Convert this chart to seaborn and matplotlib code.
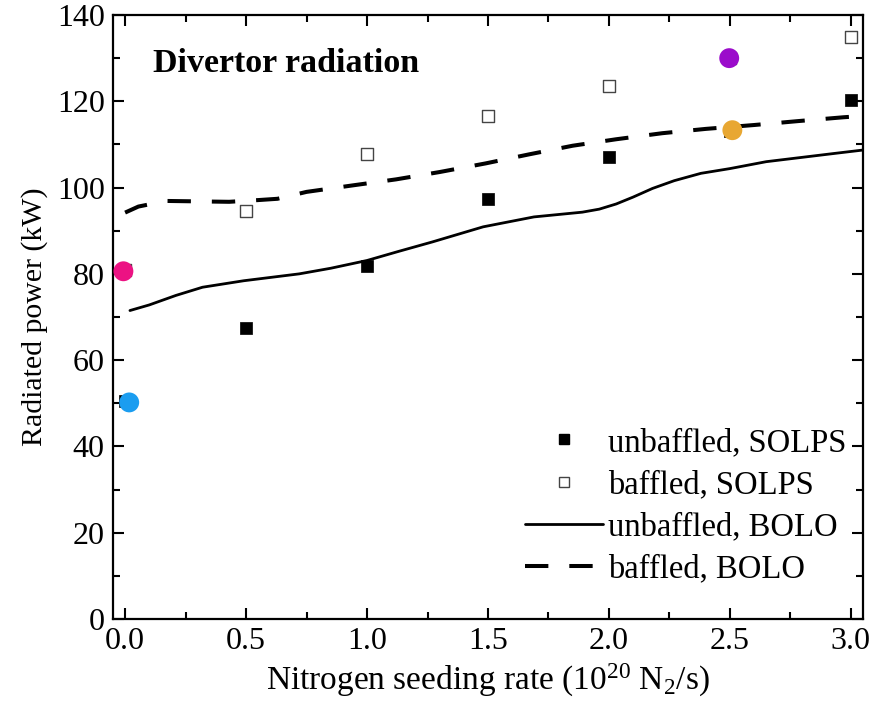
import numpy as np
import pandas as pd
import matplotlib
matplotlib.use("Agg")
import matplotlib.pyplot as plt
import seaborn as sns
from matplotlib.ticker import MultipleLocator
from matplotlib.lines import Line2D

# ---- data ----
solps_x = [0.0, 0.5, 1.0, 1.5, 2.0, 2.5, 3.0]
unbaffled_solps = [50.5, 67.4, 81.9, 97.3, 107.0, 113.2, 120.2]
baffled_solps = [80.8, 94.6, 107.8, 116.6, 123.6, 130.0, 134.8]

bolo_unb_x = [0.02, 0.1, 0.21, 0.32, 0.49, 0.72, 0.85, 1.0, 1.13, 1.27, 1.48, 1.69, 1.89, 1.96, 2.03, 2.1, 2.18, 2.27, 2.38, 2.5, 2.65, 2.93, 3.05]
bolo_unb_y = [71.5, 72.8, 75.0, 76.9, 78.4, 80.0, 81.3, 83.1, 85.2, 87.4, 90.9, 93.2, 94.3, 95.0, 96.2, 97.8, 99.8, 101.6, 103.3, 104.4, 106.0, 107.9, 108.7]

bolo_baf_x = [0.0, 0.055, 0.17, 0.3, 0.43, 0.55, 0.63, 0.75, 0.94, 1.12, 1.3, 1.49, 1.67, 1.85, 2.03, 2.22, 2.4, 2.6, 2.78, 2.97, 3.05]
bolo_baf_y = [94.2, 95.6, 96.9, 96.8, 96.7, 97.1, 97.4, 99.0, 100.5, 101.9, 103.6, 105.6, 107.7, 109.7, 111.2, 112.6, 113.6, 114.5, 115.4, 116.3, 116.6]

exp_x = [-0.007, 0.017, 2.497, 2.51]
exp_y = [80.6, 50.2, 130.0, 113.3]
exp_colors = ["#EC1283", "#1B9DF0", "#9B0CCB", "#E8A732"]

legend_labels = ["unbaffled, SOLPS", "baffled, SOLPS", "unbaffled, BOLO", "baffled, BOLO"]

# ---- style ----
sns.set_style("ticks")
plt.rcParams["font.family"] = ["Liberation Serif", "DejaVu Serif"]
plt.rcParams["mathtext.fontset"] = "custom"
plt.rcParams["mathtext.rm"] = "Liberation Serif"
plt.rcParams["mathtext.it"] = "Liberation Serif:italic"
plt.rcParams["mathtext.bf"] = "Liberation Serif:bold"
plt.rcParams["text.color"] = "black"
plt.rcParams["axes.labelcolor"] = "black"
plt.rcParams["xtick.color"] = "black"
plt.rcParams["ytick.color"] = "black"

fig, ax = plt.subplots(figsize=(8.75, 7.17), dpi=100)
fig.subplots_adjust(left=113/875, right=863/875, top=1-15/717, bottom=1-619/717)

df_unb = pd.DataFrame({"x": bolo_unb_x, "y": bolo_unb_y})
df_baf = pd.DataFrame({"x": bolo_baf_x, "y": bolo_baf_y})
sns.lineplot(data=df_unb, x="x", y="y", ax=ax, color="black", linewidth=2.0, zorder=2)
sns.lineplot(data=df_baf, x="x", y="y", ax=ax, color="black", linewidth=2.9, zorder=2)
ax.lines[-1].set_dashes((5.8, 5.2))

df_s = pd.DataFrame({"x": solps_x, "unb": unbaffled_solps, "baf": baffled_solps})
sns.scatterplot(data=df_s, x="x", y="unb", ax=ax, marker="s", s=85, color="black",
                edgecolor="black", linewidth=0.5, zorder=3)
sns.scatterplot(data=df_s, x="x", y="baf", ax=ax, marker="s", s=82, facecolor="white",
                edgecolor="#444444", linewidth=1.0, zorder=3)

df_e = pd.DataFrame({"x": exp_x, "y": exp_y, "c": exp_colors})
sns.scatterplot(data=df_e, x="x", y="y", hue="c", palette={c: c for c in exp_colors},
                ax=ax, s=205, linewidth=0, legend=False, zorder=4)

ax.set_xlim(-0.05, 3.05)
ax.set_ylim(0, 140)
ax.xaxis.set_major_locator(MultipleLocator(0.5))
ax.xaxis.set_minor_locator(MultipleLocator(0.25))
ax.yaxis.set_major_locator(MultipleLocator(20))
ax.yaxis.set_minor_locator(MultipleLocator(10))
ax.xaxis.set_major_formatter(matplotlib.ticker.FormatStrFormatter("%.1f"))
ax.tick_params(which="both", direction="in", top=True, right=True, width=1.5,
               labelsize=23, color="black", labelcolor="black")
ax.tick_params(which="major", length=8, pad=6)
ax.tick_params(which="minor", length=5)
for sp in ax.spines.values():
    sp.set_visible(True)
    sp.set_linewidth(1.6)
    sp.set_color("black")

ax.set_xlabel("Nitrogen seeding rate (10$^{20}$ N$_2$/s)", fontsize=24, labelpad=4)
ax.set_ylabel("Radiated power (kW)", fontsize=21.5, labelpad=6)

ax.text(0.116, 128.8, "Divertor radiation", fontsize=24.5, fontweight="bold", va="center", ha="left")

handles = [
    Line2D([], [], linestyle="none", marker="s", markersize=7, color="black"),
    Line2D([], [], linestyle="none", marker="s", markersize=7, markerfacecolor="white",
           markeredgecolor="#444444", markeredgewidth=1.0),
    Line2D([], [], color="black", linewidth=2.0),
    Line2D([], [], color="black", linewidth=2.9, dashes=(5.8, 5.2)),
]
ax.legend(handles, legend_labels, loc="lower right", bbox_to_anchor=(1.0, 0.03),
          frameon=False, fontsize=23.5, handlelength=2.4, handletextpad=0.15,
          labelspacing=0.36, borderaxespad=0.1)

fig.savefig("out.png", dpi=100)
